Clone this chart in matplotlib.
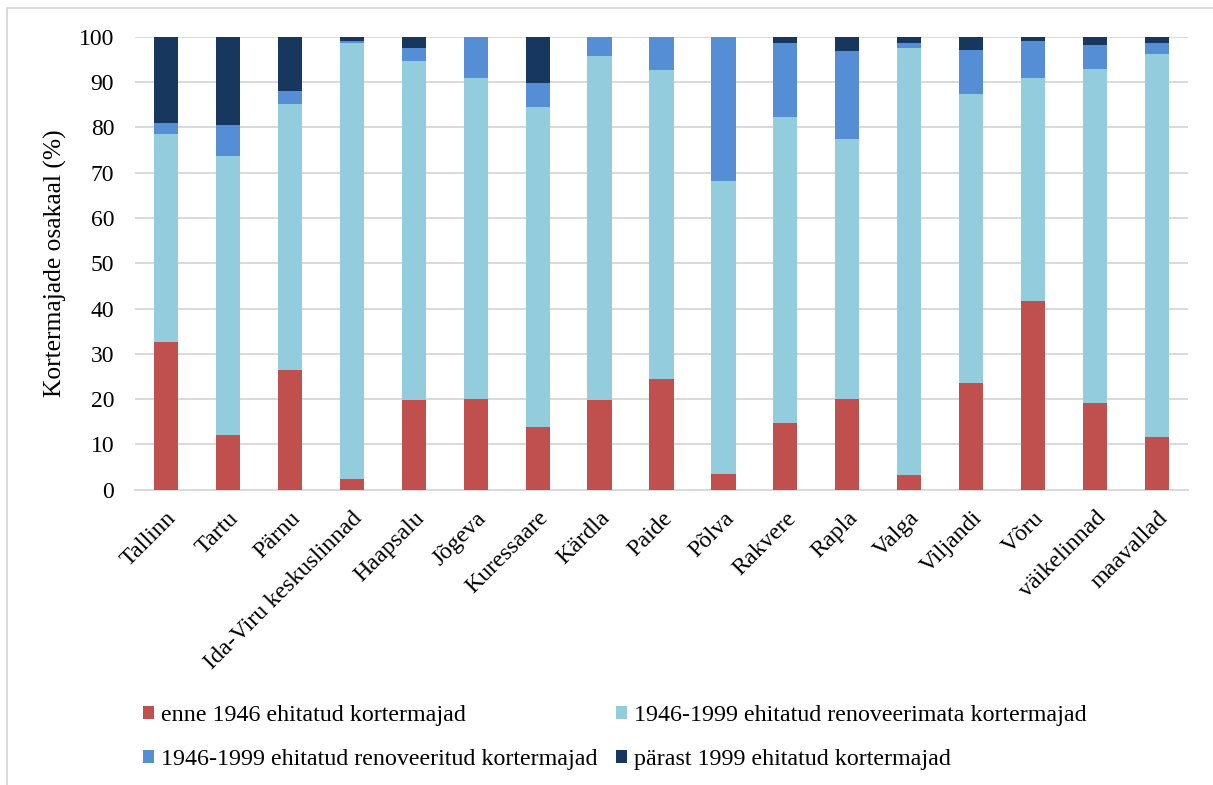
import numpy as np
import matplotlib.pyplot as plt
from matplotlib.lines import Line2D

plt.rcParams['font.family'] = ['Liberation Serif', 'DejaVu Serif']

# linnad / piirkonnad
kohad = ['Tallinn', 'Tartu', 'Pärnu', 'Ida-Viru keskuslinnad', 'Haapsalu', 'Jõgeva',
         'Kuressaare', 'Kärdla', 'Paide', 'Põlva', 'Rakvere', 'Rapla', 'Valga',
         'Viljandi', 'Võru', 'väikelinnad', 'maavallad']

# osakaalud protsentides
enne_1946 = [32.5, 12.0, 26.4, 2.4, 19.7, 20.1, 13.8, 19.7, 24.4, 3.4, 14.8, 20.1, 3.2,
             23.6, 41.6, 19.1, 11.6]
renoveerimata = [46.0, 61.6, 58.8, 96.3, 75.1, 70.8, 70.7, 76.1, 68.2, 64.8, 67.5, 57.3, 94.4,
                 63.7, 49.3, 73.8, 84.6]
renoveeritud = [2.4, 7.0, 2.8, 0.3, 2.8, 9.1, 5.3, 4.2, 7.4, 31.8, 16.4, 19.4, 1.0,
                9.9, 8.1, 5.3, 2.4]
parast_1999 = [19.1, 19.4, 12.0, 1.0, 2.4, 0.0, 10.2, 0.0, 0.0, 0.0, 1.3, 3.2, 1.4,
               2.8, 1.0, 1.8, 1.4]

seeriad = [
    (enne_1946, '#C0504D', 'enne 1946 ehitatud kortermajad'),
    (renoveerimata, '#93CDDD', '1946-1999 ehitatud renoveerimata kortermajad'),
    (renoveeritud, '#558ED5', '1946-1999 ehitatud renoveeritud kortermajad'),
    (parast_1999, '#17375E', 'pärast 1999 ehitatud kortermajad'),
]

fig = plt.figure(figsize=(12.13, 7.85), dpi=100)
ax = fig.add_axes([0.1113, 0.3764, 0.8681, 0.5765])

x = np.arange(len(kohad))
pohi = np.zeros(len(kohad))
tulbad = []
for vaartused, varv, nimi in seeriad:
    v = np.array(vaartused)
    b = ax.bar(x, v, width=0.39, bottom=pohi, color=varv, label=nimi, zorder=3)
    tulbad.append(b)
    pohi += v

ax.set_xlim(-0.5, len(kohad) - 0.5)
ax.set_ylim(0, 100)
ax.set_yticks(np.arange(0, 101, 10))
ax.yaxis.grid(True, color='#D9D9D9', linewidth=1.4, zorder=0)
ax.set_axisbelow(True)
for s in ['top', 'right', 'left']:
    ax.spines[s].set_visible(False)
ax.spines['bottom'].set_color('#D9D9D9')
ax.spines['bottom'].set_linewidth(1.4)
ax.tick_params(axis='both', length=0)
ax.tick_params(axis='y', pad=15, labelsize=17)
ax.tick_params(axis='x', pad=13, labelsize=17.3)
ax.set_xticks(x)
ax.set_xticklabels(kohad, rotation=45, ha='right', rotation_mode='anchor')
ax.set_ylabel('Kortermajade osakaal (%)', fontsize=18.4)
ax.yaxis.set_label_coords(-0.065, 0.5)

# legend kahes veerus
kasitsejad = [tulbad[0], tulbad[2], tulbad[1], tulbad[3]]
nimed = [seeriad[0][2], seeriad[2][2], seeriad[1][2], seeriad[3][2]]
fig.legend(kasitsejad, nimed, loc='upper left', bbox_to_anchor=(0.118, 0.1016),
           ncol=2, frameon=False, fontsize=17.3, handlelength=0.45, handleheight=0.45,
           handletextpad=0.29, columnspacing=0.78, labelspacing=0.95,
           borderpad=0, borderaxespad=0)

# diagrammi raam
fig.add_artist(Line2D([7 / 1213, 1], [1 - 7.5 / 785] * 2, color='#D9D9D9', linewidth=1.4,
                      transform=fig.transFigure))
fig.add_artist(Line2D([7 / 1213] * 2, [0, 1 - 7.5 / 785], color='#D9D9D9', linewidth=1.4,
                      transform=fig.transFigure))

fig.savefig('out.png', dpi=100)
